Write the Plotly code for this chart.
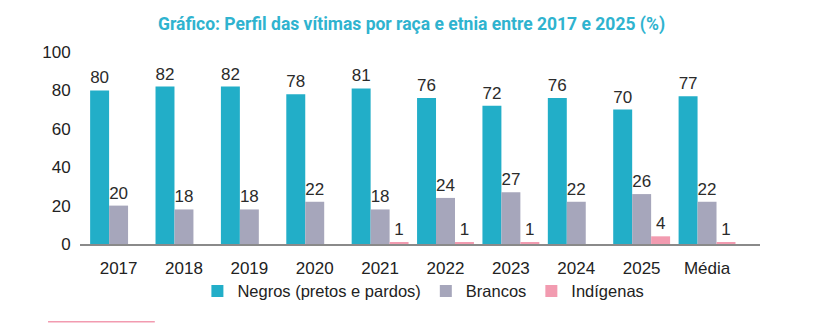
import plotly.graph_objects as go

categories = ["2017", "2018", "2019", "2020", "2021", "2022", "2023", "2024", "2025", "Média"]
negros = [80, 82, 82, 78, 81, 76, 72, 76, 70, 77]
brancos = [20, 18, 18, 22, 18, 24, 27, 22, 26, 22]
indigenas = [0, 0, 0, 0, 1, 1, 1, 0, 4, 1]

series = [
    ("Negros (pretos e pardos)", negros, "#22aec8"),
    ("Brancos", brancos, "#a6a6bb"),
    ("Indígenas", indigenas, "#f29bb0"),
]

FONT = "Liberation Sans, Arial, sans-serif"

fig = go.Figure()
for name, vals, color in series:
    fig.add_trace(go.Bar(
        name=name,
        x=categories,
        y=vals,
        marker=dict(color=color, line=dict(width=0)),
        text=[str(v) if v else "" for v in vals],
        textposition="outside",
        textfont=dict(family=FONT, size=17, color="#2b2b2b"),
        cliponaxis=False,
    ))

fig.update_layout(
    width=828,
    height=323,
    margin=dict(l=80, r=68, t=52, b=79),
    barmode="group",
    bargap=0.13,
    bargroupgap=0,
    paper_bgcolor="white",
    plot_bgcolor="white",
    title=dict(
        text="<b>Gráfico: Perfil das vítimas por raça e etnia entre 2017 e 2025 (%)</b>",
        x=0.497, xanchor="center",
        y=0.925, yanchor="middle",
        font=dict(family="Roboto, sans-serif", size=17.5, color="#2fb3cf"),
    ),
    legend=dict(
        orientation="h",
        x=0.505, xanchor="center",
        y=-0.155, yanchor="top",
        font=dict(family=FONT, size=16.5, color="#222"),
        itemwidth=30,
        traceorder="normal",
        tracegroupgap=0,
    ),
    showlegend=True,
)

fig.update_xaxes(
    range=[-0.59, 9.81],
    showline=True, linecolor="#8a8a8a", linewidth=2,
    showgrid=False, zeroline=False,
    ticks="outside", ticklen=8, tickcolor="rgba(0,0,0,0)",
    tickfont=dict(family=FONT, size=17, color="#222"),
)
fig.update_yaxes(
    range=[0, 100],
    tickvals=[0, 20, 40, 60, 80, 100],
    showline=False, showgrid=False, zeroline=False,
    ticks="outside", ticklen=5, tickcolor="rgba(0,0,0,0)",
    tickfont=dict(family=FONT, size=17, color="#222"),
)

# decorative pink rule under the legend
fig.add_shape(
    type="line", xref="paper", yref="paper",
    x0=-0.047, x1=0.110, y0=-0.405, y1=-0.405,
    line=dict(color="#f29bb0", width=1.5),
)

fig.write_html("out.html")
